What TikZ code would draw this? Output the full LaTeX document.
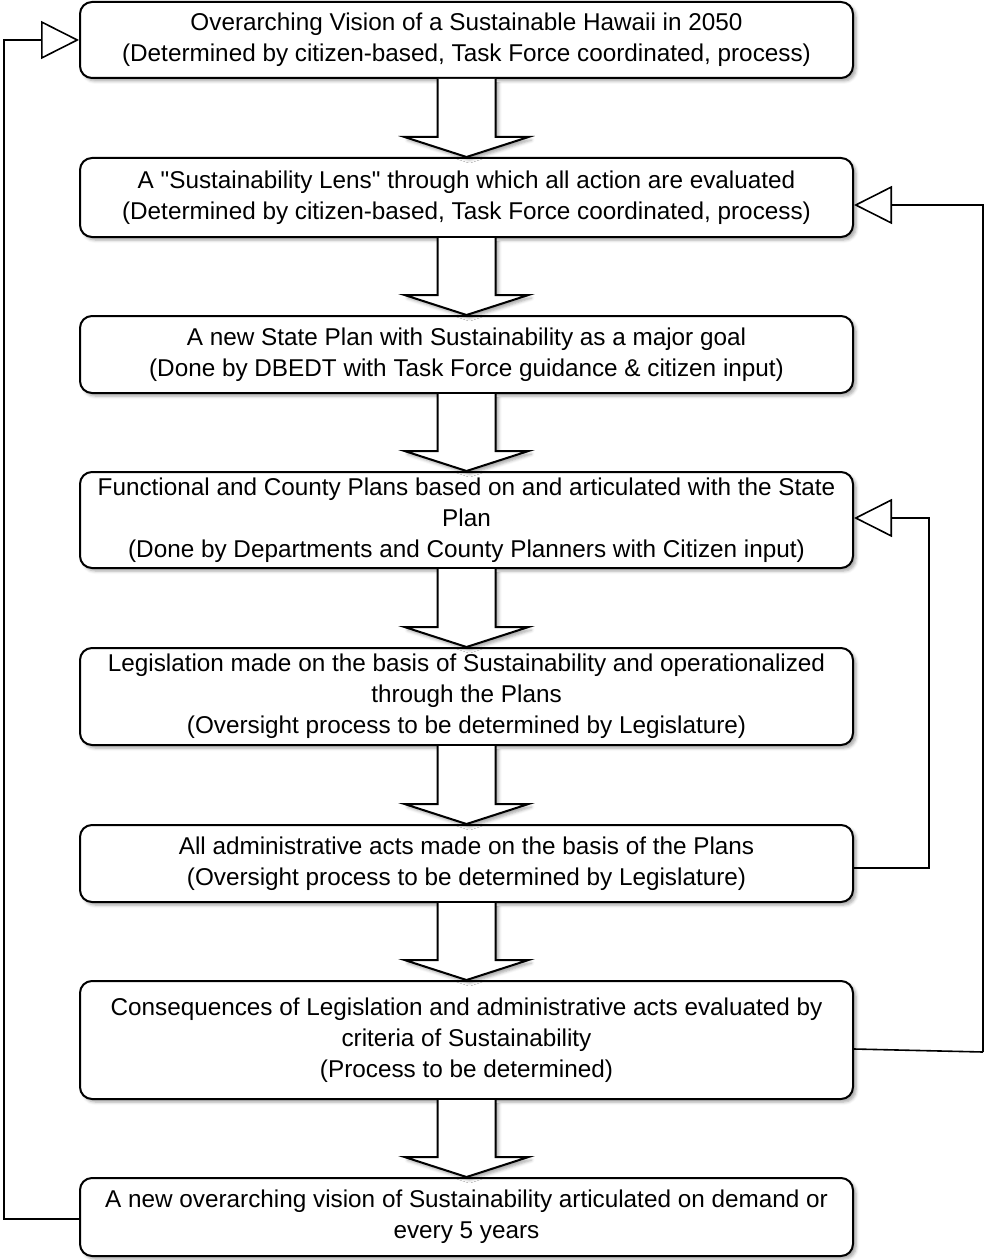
\documentclass[tikz,border=0pt]{standalone}
\usepackage{fontspec}
\newfontfamily\libsans{Liberation Sans}
\usetikzlibrary{calc,arrows.meta,shadows.blur}
\tikzset{
  box/.style={draw=black, line width=2pt, rounded corners=12pt, fill=white,
    minimum width=773pt, inner sep=0pt, align=center,
    font=\libsans\fontsize{24.3}{31}\selectfont,
    blur shadow={shadow xshift=3pt, shadow yshift=-3pt, shadow blur radius=3pt, shadow opacity=35}},
  blockarrow/.style={draw=black, line width=2pt, fill=white, line join=miter,
    blur shadow={shadow xshift=3pt, shadow yshift=-3pt, shadow blur radius=3pt, shadow opacity=35}},
  conn/.style={draw=black, line width=1.6pt,
    -{Triangle[width=38pt, length=38pt, fill=white, line width=1.6pt]}},
  plainconn/.style={draw=black, line width=1.6pt}
}
\begin{document}
\begin{tikzpicture}[x=1pt, y=-1pt]
\useasboundingbox (0,0) rectangle (983,1260);
\node[box, minimum height=76pt] (b1) at (466.5,40)
  {Overarching Vision of a Sustainable Hawaii in 2050\\(Determined by citizen-based, Task Force coordinated, process)};
\node[box, minimum height=79pt] (b2) at (466.5,197.5)
  {A "Sustainability Lens" through which all action are evaluated\\(Determined by citizen-based, Task Force coordinated, process)};
\node[box, minimum height=77pt] (b3) at (466.5,354.5)
  {A new State Plan with Sustainability as a major goal\\(Done by DBEDT with Task Force guidance \& citizen input)};
\node[box, minimum height=96pt] (b4) at (466.5,520)
  {Functional and County Plans based on and articulated with the State\\Plan\\(Done by Departments and County Planners with Citizen input)};
\node[box, minimum height=97pt] (b5) at (466.5,696.5)
  {Legislation made on the basis of Sustainability and operationalized\\through the Plans\\(Oversight process to be determined by Legislature)};
\node[box, minimum height=77pt] (b6) at (466.5,863.5)
  {All administrative acts made on the basis of the Plans\\(Oversight process to be determined by Legislature)};
\node[box, minimum height=118pt] (b7) at (466.5,1040)
  {Consequences of Legislation and administrative acts evaluated by\\criteria of Sustainability\\(Process to be determined)};
\node[box, minimum height=78pt] (b8) at (466.5,1217)
  {A new overarching vision of Sustainability articulated on demand or\\every 5 years};

\foreach \a/\b in {b1/b2,b2/b3,b3/b4,b4/b5,b5/b6,b6/b7,b7/b8}{
  \path[blockarrow] ($(\a.south)+(-29,0)$) -- ($(\b.north)+(-29,-20)$) -- ($(\b.north)+(-62,-20)$)
    -- (\b.north) -- ($(\b.north)+(62,-20)$) -- ($(\b.north)+(29,-20)$) -- ($(\a.south)+(29,0)$);
}

% feedback connectors
\coordinate (c7) at ($(b7.east)+(0,9)$);
\coordinate (r7) at ($(b7.east)+(129,12)$);
\coordinate (t2) at ($(b2.east)+(0,7.5)$);
\draw[plainconn] (c7) -- (r7);
\draw[conn] (r7) |- (t2);
\draw[conn] ($(b6.east)+(0,4.5)$) -| ++(75,0) |- ($(b4.east)+(0,-2)$);
\draw[conn] ($(b8.west)+(0,2)$) -- ++(-75,0) |- (b1.west);
\end{tikzpicture}
\end{document}
